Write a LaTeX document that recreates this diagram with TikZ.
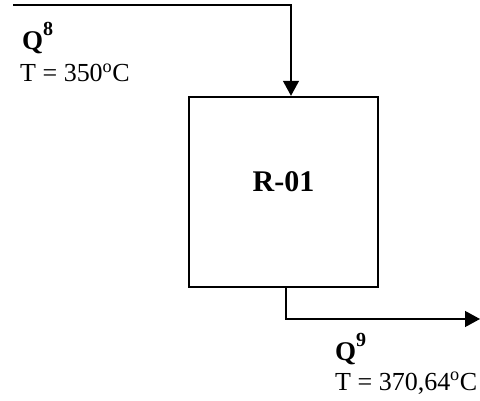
\documentclass[tikz,border=0pt]{standalone}
\usepackage{fontspec}
\setmainfont{Liberation Serif}
\usepackage{tikz}
\usetikzlibrary{positioning,arrows.meta}
\newcommand{\streamQ}[1]{{\fontsize{27}{30}\selectfont\bfseries Q\raisebox{14pt}{\fontsize{20}{20}\selectfont\bfseries #1}}}

\begin{document}
\begin{tikzpicture}[x=1pt,y=-1pt,
    flow/.style={line width=1.3pt,-{Triangle[width=16pt,length=15pt]}},
    unit/.style={draw,line width=2.4pt,minimum width=189pt,minimum height=190pt,inner sep=0pt},
    tag/.style={inner sep=0pt,font=\fontsize{30}{34}\selectfont\bfseries},
    lbl/.style={anchor=base west,inner sep=0pt,font=\fontsize{26}{30}\selectfont}]
    \useasboundingbox (0,0) rectangle (480,401);
    \node[unit] (reactor) at (283.5,192) {};
    \node[tag] (name) at ([yshift=10pt]reactor.center) {R-01};
    \coordinate (feed) at (13,5);
    \coordinate (product) at (480,319);
    \draw[flow] (feed) -| ([xshift=7.5pt]reactor.north);
    \draw[flow] ([xshift=2.5pt]reactor.south) |- (product);
    \node[lbl] (q8) at (22,50) {\streamQ{8}};
    \node[lbl] (t8) at (20,82) {T = 350\textsuperscript{o}C};
    \node[lbl] (q9) at (335,360) {\streamQ{9}};
    \node[lbl] (t9) at (335,390) {T = 370,64\textsuperscript{o}C};
\end{tikzpicture}
\end{document}
